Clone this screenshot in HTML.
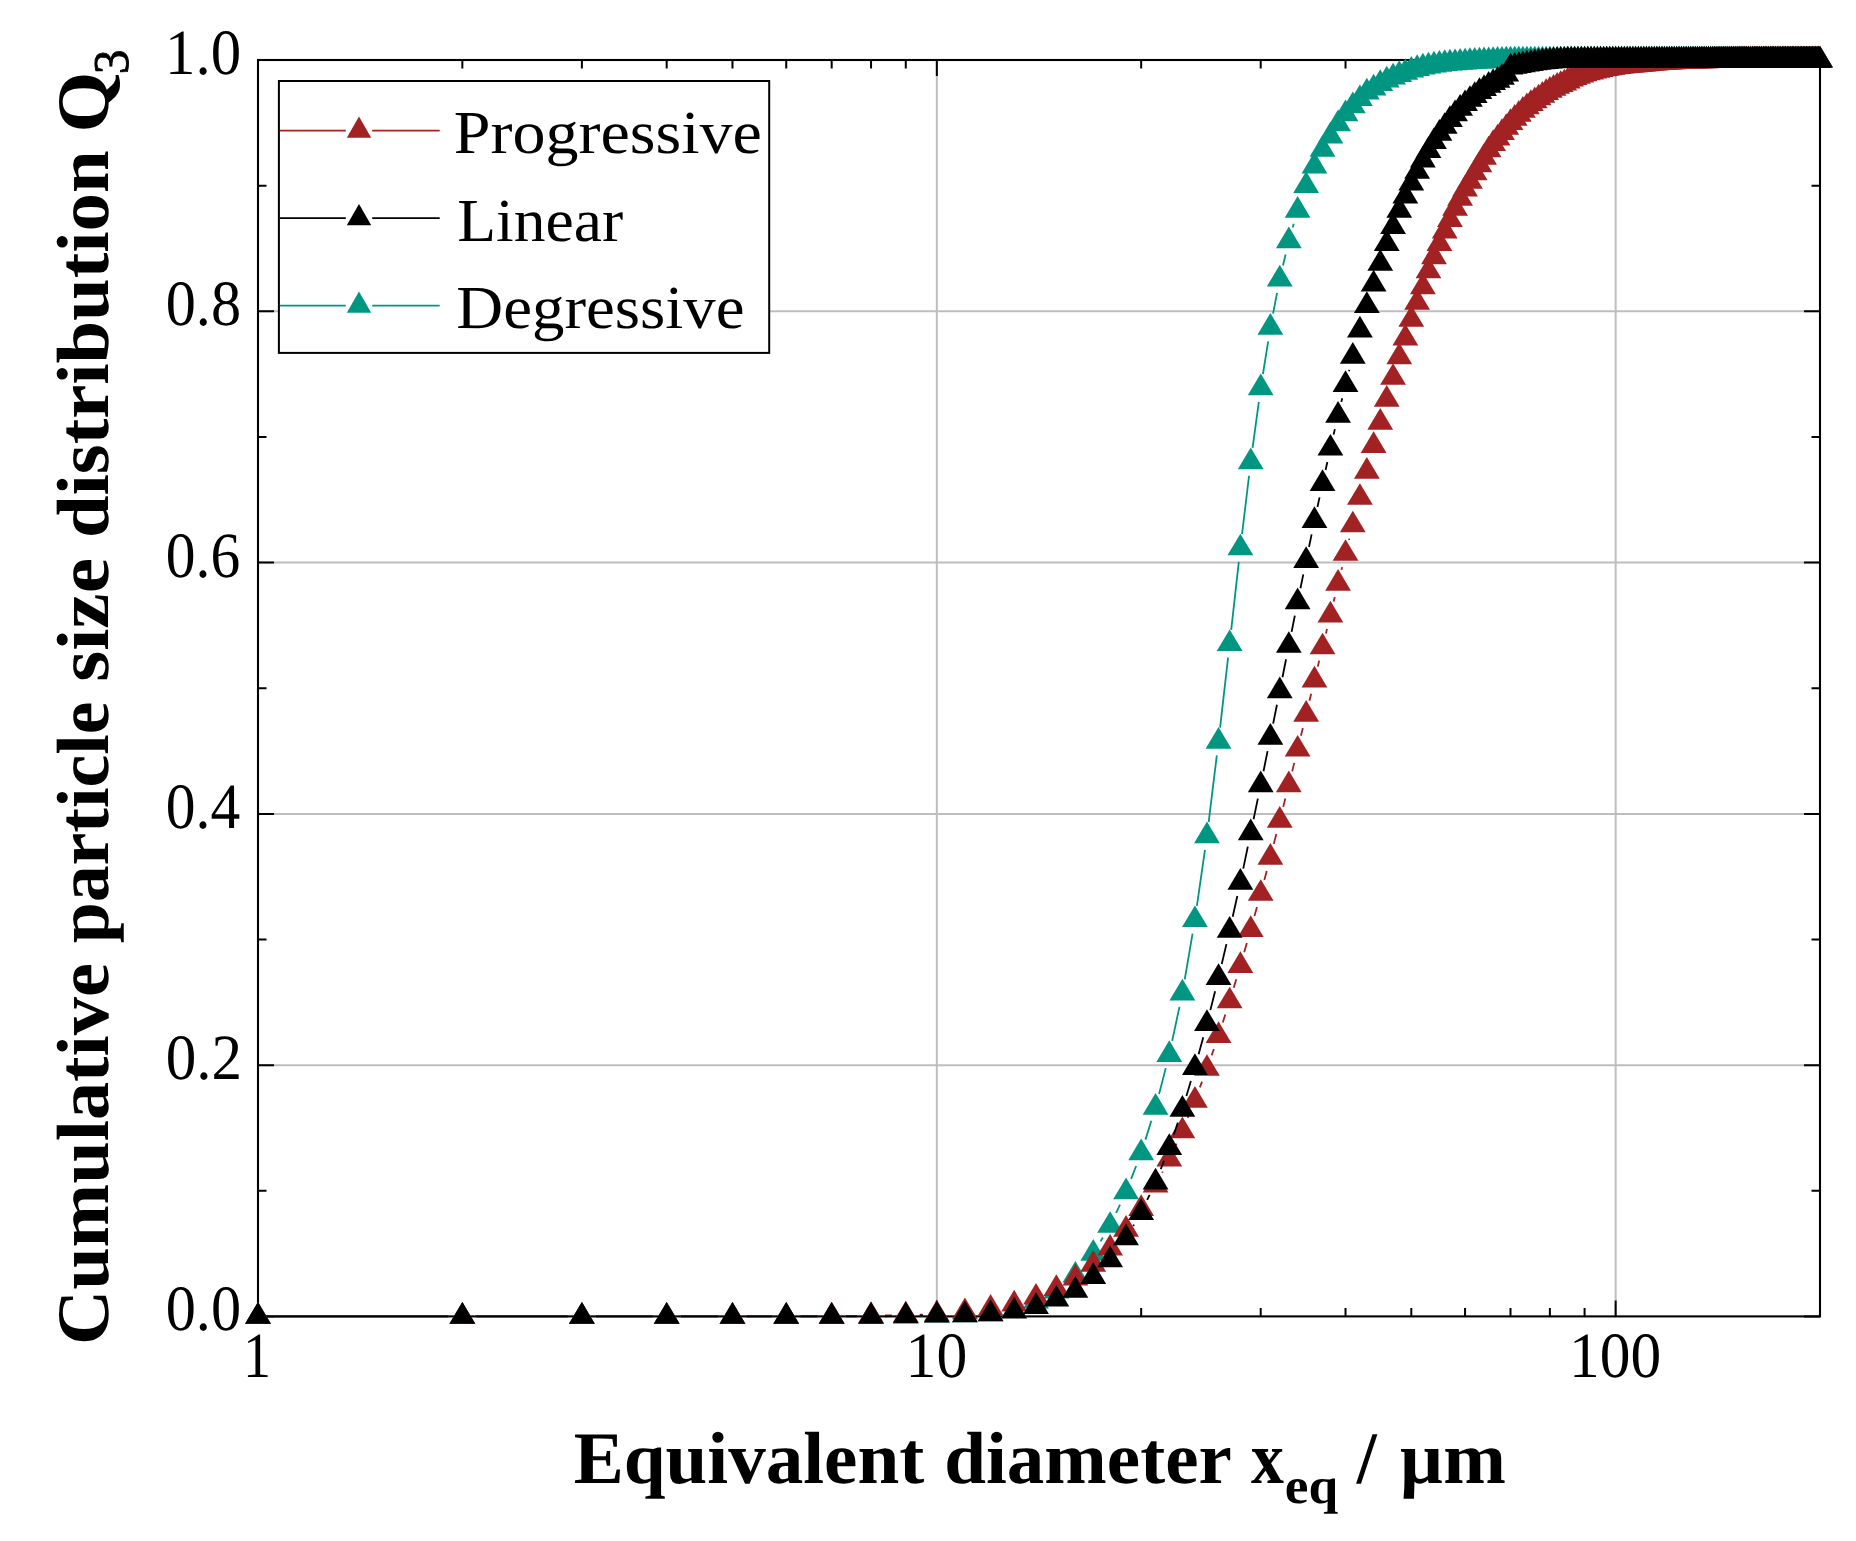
<!DOCTYPE html>
<html lang="en"><head><meta charset="utf-8"><title>Cumulative particle size distribution</title>
<style>html,body{margin:0;padding:0;background:#fff}svg{display:block}text{font-family:"Liberation Serif", serif;text-rendering:geometricPrecision}</style>
</head><body>
<svg width="1856" height="1541" viewBox="0 0 1856 1541" font-family='"Liberation Serif", serif'>
<rect width="1856" height="1541" fill="#fff"/>
<path d="M258.0 1065.14H1820.0M258.0 813.88H1820.0M258.0 562.62H1820.0M258.0 311.36H1820.0M936.83 60.1V1316.4M1615.65 60.1V1316.4" stroke="#bebebe" stroke-width="2" fill="none"/>
<path d="M258.0 1316.40h16.0M1820.0 1316.40h-16.0M258.0 1190.77h8.5M1820.0 1190.77h-8.5M258.0 1065.14h16.0M1820.0 1065.14h-16.0M258.0 939.51h8.5M1820.0 939.51h-8.5M258.0 813.88h16.0M1820.0 813.88h-16.0M258.0 688.25h8.5M1820.0 688.25h-8.5M258.0 562.62h16.0M1820.0 562.62h-16.0M258.0 436.99h8.5M1820.0 436.99h-8.5M258.0 311.36h16.0M1820.0 311.36h-16.0M258.0 185.73h8.5M1820.0 185.73h-8.5M258.0 60.10h16.0M1820.0 60.10h-16.0M258.00 1316.4v-16.0M258.00 60.1v16.0M462.35 1316.4v-8.5M462.35 60.1v8.5M581.88 1316.4v-8.5M581.88 60.1v8.5M666.69 1316.4v-8.5M666.69 60.1v8.5M732.48 1316.4v-8.5M732.48 60.1v8.5M786.23 1316.4v-8.5M786.23 60.1v8.5M831.67 1316.4v-8.5M831.67 60.1v8.5M871.04 1316.4v-8.5M871.04 60.1v8.5M905.77 1316.4v-8.5M905.77 60.1v8.5M936.83 1316.4v-16.0M936.83 60.1v16.0M1141.17 1316.4v-8.5M1141.17 60.1v8.5M1260.71 1316.4v-8.5M1260.71 60.1v8.5M1345.52 1316.4v-8.5M1345.52 60.1v8.5M1411.31 1316.4v-8.5M1411.31 60.1v8.5M1465.06 1316.4v-8.5M1465.06 60.1v8.5M1510.50 1316.4v-8.5M1510.50 60.1v8.5M1549.87 1316.4v-8.5M1549.87 60.1v8.5M1584.59 1316.4v-8.5M1584.59 60.1v8.5M1615.65 1316.4v-16.0M1615.65 60.1v16.0M1820.00 1316.4v-8.5M1820.00 60.1v8.5" stroke="#000" stroke-width="2" fill="none"/>
<rect x="258.0" y="60" width="1562.0" height="1256.40" fill="none" stroke="#000" stroke-width="2.1"/>
<path d="M272.00 1316.40L448.35 1316.40M476.35 1316.40L567.88 1316.40M595.88 1316.40L652.69 1316.40M680.69 1316.40L718.48 1316.40M746.48 1316.40L772.23 1316.40M800.23 1316.40L817.67 1316.40M845.67 1316.40L857.04 1316.40M885.04 1316.25L891.77 1316.18M919.76 1315.68L922.83 1315.61M1100.53 1241.37L1102.85 1237.54M1116.10 1212.92L1120.06 1204.55M1131.12 1178.85L1136.11 1166.01M1145.40 1139.61L1151.34 1120.83M1159.07 1093.93L1165.76 1068.14M1172.19 1040.90L1179.46 1006.85M1184.74 979.35L1192.56 933.59M1196.91 905.93L1204.97 849.85M1208.66 822.09L1216.82 755.41M1220.10 727.61L1228.06 657.69M1231.21 629.86L1238.81 561.96M1242.04 534.15L1249.05 475.76M1252.59 447.99L1258.83 401.87M1262.92 374.17L1268.17 341.27M1273.04 313.70L1277.07 292.94M1282.96 265.58L1285.58 254.50M1292.69 227.43L1293.73 223.81" stroke="#009682" stroke-width="1.8" fill="none"/>
<g fill="#009682"><path d="M258.00 1302.00l12.9 21.7h-25.8z"/><path d="M462.35 1302.00l12.9 21.7h-25.8z"/><path d="M581.88 1302.00l12.9 21.7h-25.8z"/><path d="M666.69 1302.00l12.9 21.7h-25.8z"/><path d="M732.48 1302.00l12.9 21.7h-25.8z"/><path d="M786.23 1302.00l12.9 21.7h-25.8z"/><path d="M831.67 1302.00l12.9 21.7h-25.8z"/><path d="M871.04 1302.00l12.9 21.7h-25.8z"/><path d="M905.77 1301.62l12.9 21.7h-25.8z"/><path d="M936.83 1300.87l12.9 21.7h-25.8z"/><path d="M964.92 1300.49l12.9 21.7h-25.8z"/><path d="M990.58 1299.49l12.9 21.7h-25.8z"/><path d="M1014.17 1296.35l12.9 21.7h-25.8z"/><path d="M1036.02 1286.92l12.9 21.7h-25.8z"/><path d="M1056.36 1276.87l12.9 21.7h-25.8z"/><path d="M1075.39 1260.92l12.9 21.7h-25.8z"/><path d="M1093.26 1238.93l12.9 21.7h-25.8z"/><path d="M1110.11 1211.17l12.9 21.7h-25.8z"/><path d="M1126.05 1177.50l12.9 21.7h-25.8z"/><path d="M1141.17 1138.56l12.9 21.7h-25.8z"/><path d="M1155.56 1093.08l12.9 21.7h-25.8z"/><path d="M1169.27 1040.19l12.9 21.7h-25.8z"/><path d="M1182.38 978.75l12.9 21.7h-25.8z"/><path d="M1194.92 905.39l12.9 21.7h-25.8z"/><path d="M1206.96 821.59l12.9 21.7h-25.8z"/><path d="M1218.52 727.12l12.9 21.7h-25.8z"/><path d="M1229.65 629.38l12.9 21.7h-25.8z"/><path d="M1240.37 533.65l12.9 21.7h-25.8z"/><path d="M1250.71 447.46l12.9 21.7h-25.8z"/><path d="M1260.71 373.59l12.9 21.7h-25.8z"/><path d="M1270.38 313.04l12.9 21.7h-25.8z"/><path d="M1279.74 264.80l12.9 21.7h-25.8z"/><path d="M1288.81 226.48l12.9 21.7h-25.8z"/><path d="M1297.61 195.95l12.9 21.7h-25.8z"/><path d="M1306.15 171.33l12.9 21.7h-25.8z"/><path d="M1314.46 151.86l12.9 21.7h-25.8z"/><path d="M1322.54 135.02l12.9 21.7h-25.8z"/><path d="M1330.40 121.71l12.9 21.7h-25.8z"/><path d="M1338.06 109.52l12.9 21.7h-25.8z"/><path d="M1345.52 99.60l12.9 21.7h-25.8z"/><path d="M1352.80 91.43l12.9 21.7h-25.8z"/><path d="M1359.90 84.39l12.9 21.7h-25.8z"/><path d="M1366.84 77.86l12.9 21.7h-25.8z"/><path d="M1373.62 73.72l12.9 21.7h-25.8z"/><path d="M1380.24 69.19l12.9 21.7h-25.8z"/><path d="M1386.72 65.68l12.9 21.7h-25.8z"/><path d="M1393.06 62.79l12.9 21.7h-25.8z"/><path d="M1399.27 60.27l12.9 21.7h-25.8z"/><path d="M1405.35 58.14l12.9 21.7h-25.8z"/><path d="M1411.31 55.88l12.9 21.7h-25.8z"/><path d="M1417.14 54.37l12.9 21.7h-25.8z"/><path d="M1422.87 52.86l12.9 21.7h-25.8z"/><path d="M1428.48 51.73l12.9 21.7h-25.8z"/><path d="M1433.99 50.73l12.9 21.7h-25.8z"/><path d="M1439.40 49.97l12.9 21.7h-25.8z"/><path d="M1444.72 49.34l12.9 21.7h-25.8z"/><path d="M1449.93 48.84l12.9 21.7h-25.8z"/><path d="M1455.06 48.46l12.9 21.7h-25.8z"/><path d="M1460.10 48.09l12.9 21.7h-25.8z"/><path d="M1465.06 47.71l12.9 21.7h-25.8z"/><path d="M1469.93 47.33l12.9 21.7h-25.8z"/><path d="M1474.72 47.08l12.9 21.7h-25.8z"/><path d="M1479.44 46.83l12.9 21.7h-25.8z"/><path d="M1484.08 46.58l12.9 21.7h-25.8z"/><path d="M1488.65 46.45l12.9 21.7h-25.8z"/><path d="M1493.15 46.20l12.9 21.7h-25.8z"/><path d="M1497.59 46.08l12.9 21.7h-25.8z"/><path d="M1501.96 45.95l12.9 21.7h-25.8z"/><path d="M1506.26 45.83l12.9 21.7h-25.8z"/><path d="M1510.50 45.70l12.9 21.7h-25.8z"/><path d="M1514.68 45.70l12.9 21.7h-25.8z"/><path d="M1518.81 45.70l12.9 21.7h-25.8z"/><path d="M1522.87 45.70l12.9 21.7h-25.8z"/><path d="M1526.88 45.70l12.9 21.7h-25.8z"/><path d="M1530.84 45.70l12.9 21.7h-25.8z"/><path d="M1534.75 45.70l12.9 21.7h-25.8z"/><path d="M1538.60 45.70l12.9 21.7h-25.8z"/><path d="M1542.40 45.70l12.9 21.7h-25.8z"/><path d="M1546.16 45.70l12.9 21.7h-25.8z"/><path d="M1549.87 45.70l12.9 21.7h-25.8z"/><path d="M1553.53 45.70l12.9 21.7h-25.8z"/><path d="M1557.15 45.70l12.9 21.7h-25.8z"/><path d="M1560.72 45.70l12.9 21.7h-25.8z"/><path d="M1564.25 45.70l12.9 21.7h-25.8z"/><path d="M1567.74 45.70l12.9 21.7h-25.8z"/><path d="M1571.19 45.70l12.9 21.7h-25.8z"/><path d="M1574.60 45.70l12.9 21.7h-25.8z"/><path d="M1577.97 45.70l12.9 21.7h-25.8z"/><path d="M1581.30 45.70l12.9 21.7h-25.8z"/><path d="M1584.59 45.70l12.9 21.7h-25.8z"/><path d="M1587.85 45.70l12.9 21.7h-25.8z"/><path d="M1591.07 45.70l12.9 21.7h-25.8z"/><path d="M1594.26 45.70l12.9 21.7h-25.8z"/><path d="M1597.41 45.70l12.9 21.7h-25.8z"/><path d="M1600.53 45.70l12.9 21.7h-25.8z"/><path d="M1603.62 45.70l12.9 21.7h-25.8z"/><path d="M1606.67 45.70l12.9 21.7h-25.8z"/><path d="M1609.70 45.70l12.9 21.7h-25.8z"/><path d="M1612.69 45.70l12.9 21.7h-25.8z"/><path d="M1615.65 45.70l12.9 21.7h-25.8z"/><path d="M1618.59 45.70l12.9 21.7h-25.8z"/><path d="M1621.49 45.70l12.9 21.7h-25.8z"/><path d="M1624.37 45.70l12.9 21.7h-25.8z"/><path d="M1627.22 45.70l12.9 21.7h-25.8z"/><path d="M1630.04 45.70l12.9 21.7h-25.8z"/><path d="M1632.83 45.70l12.9 21.7h-25.8z"/><path d="M1635.60 45.70l12.9 21.7h-25.8z"/><path d="M1638.34 45.70l12.9 21.7h-25.8z"/><path d="M1641.06 45.70l12.9 21.7h-25.8z"/><path d="M1643.75 45.70l12.9 21.7h-25.8z"/><path d="M1646.42 45.70l12.9 21.7h-25.8z"/><path d="M1649.06 45.70l12.9 21.7h-25.8z"/><path d="M1651.68 45.70l12.9 21.7h-25.8z"/><path d="M1654.28 45.70l12.9 21.7h-25.8z"/><path d="M1656.86 45.70l12.9 21.7h-25.8z"/><path d="M1659.41 45.70l12.9 21.7h-25.8z"/><path d="M1661.94 45.70l12.9 21.7h-25.8z"/><path d="M1664.45 45.70l12.9 21.7h-25.8z"/><path d="M1666.94 45.70l12.9 21.7h-25.8z"/><path d="M1669.40 45.70l12.9 21.7h-25.8z"/><path d="M1671.85 45.70l12.9 21.7h-25.8z"/><path d="M1674.28 45.70l12.9 21.7h-25.8z"/><path d="M1676.68 45.70l12.9 21.7h-25.8z"/><path d="M1679.07 45.70l12.9 21.7h-25.8z"/><path d="M1681.44 45.70l12.9 21.7h-25.8z"/><path d="M1683.79 45.70l12.9 21.7h-25.8z"/><path d="M1686.12 45.70l12.9 21.7h-25.8z"/><path d="M1688.43 45.70l12.9 21.7h-25.8z"/><path d="M1690.72 45.70l12.9 21.7h-25.8z"/><path d="M1693.00 45.70l12.9 21.7h-25.8z"/><path d="M1695.26 45.70l12.9 21.7h-25.8z"/><path d="M1697.50 45.70l12.9 21.7h-25.8z"/><path d="M1699.73 45.70l12.9 21.7h-25.8z"/><path d="M1701.93 45.70l12.9 21.7h-25.8z"/><path d="M1704.13 45.70l12.9 21.7h-25.8z"/><path d="M1706.30 45.70l12.9 21.7h-25.8z"/><path d="M1708.46 45.70l12.9 21.7h-25.8z"/><path d="M1710.61 45.70l12.9 21.7h-25.8z"/><path d="M1712.74 45.70l12.9 21.7h-25.8z"/><path d="M1714.85 45.70l12.9 21.7h-25.8z"/><path d="M1716.95 45.70l12.9 21.7h-25.8z"/><path d="M1719.03 45.70l12.9 21.7h-25.8z"/><path d="M1721.10 45.70l12.9 21.7h-25.8z"/><path d="M1723.15 45.70l12.9 21.7h-25.8z"/><path d="M1725.19 45.70l12.9 21.7h-25.8z"/><path d="M1727.22 45.70l12.9 21.7h-25.8z"/><path d="M1729.23 45.70l12.9 21.7h-25.8z"/><path d="M1731.23 45.70l12.9 21.7h-25.8z"/><path d="M1733.22 45.70l12.9 21.7h-25.8z"/><path d="M1735.19 45.70l12.9 21.7h-25.8z"/><path d="M1737.15 45.70l12.9 21.7h-25.8z"/><path d="M1739.09 45.70l12.9 21.7h-25.8z"/><path d="M1741.03 45.70l12.9 21.7h-25.8z"/><path d="M1742.95 45.70l12.9 21.7h-25.8z"/><path d="M1744.86 45.70l12.9 21.7h-25.8z"/><path d="M1746.75 45.70l12.9 21.7h-25.8z"/><path d="M1748.63 45.70l12.9 21.7h-25.8z"/><path d="M1750.51 45.70l12.9 21.7h-25.8z"/><path d="M1752.37 45.70l12.9 21.7h-25.8z"/><path d="M1754.21 45.70l12.9 21.7h-25.8z"/><path d="M1756.05 45.70l12.9 21.7h-25.8z"/><path d="M1757.88 45.70l12.9 21.7h-25.8z"/><path d="M1759.69 45.70l12.9 21.7h-25.8z"/><path d="M1761.49 45.70l12.9 21.7h-25.8z"/><path d="M1763.29 45.70l12.9 21.7h-25.8z"/><path d="M1765.07 45.70l12.9 21.7h-25.8z"/><path d="M1766.84 45.70l12.9 21.7h-25.8z"/><path d="M1768.60 45.70l12.9 21.7h-25.8z"/><path d="M1770.35 45.70l12.9 21.7h-25.8z"/><path d="M1772.09 45.70l12.9 21.7h-25.8z"/><path d="M1773.82 45.70l12.9 21.7h-25.8z"/><path d="M1775.54 45.70l12.9 21.7h-25.8z"/><path d="M1777.24 45.70l12.9 21.7h-25.8z"/><path d="M1778.94 45.70l12.9 21.7h-25.8z"/><path d="M1780.63 45.70l12.9 21.7h-25.8z"/><path d="M1782.31 45.70l12.9 21.7h-25.8z"/><path d="M1783.98 45.70l12.9 21.7h-25.8z"/><path d="M1785.64 45.70l12.9 21.7h-25.8z"/><path d="M1787.30 45.70l12.9 21.7h-25.8z"/><path d="M1788.94 45.70l12.9 21.7h-25.8z"/><path d="M1790.57 45.70l12.9 21.7h-25.8z"/><path d="M1792.20 45.70l12.9 21.7h-25.8z"/><path d="M1793.81 45.70l12.9 21.7h-25.8z"/><path d="M1795.42 45.70l12.9 21.7h-25.8z"/><path d="M1797.02 45.70l12.9 21.7h-25.8z"/><path d="M1798.61 45.70l12.9 21.7h-25.8z"/><path d="M1800.19 45.70l12.9 21.7h-25.8z"/><path d="M1801.76 45.70l12.9 21.7h-25.8z"/><path d="M1803.32 45.70l12.9 21.7h-25.8z"/><path d="M1804.88 45.70l12.9 21.7h-25.8z"/><path d="M1806.43 45.70l12.9 21.7h-25.8z"/><path d="M1807.97 45.70l12.9 21.7h-25.8z"/><path d="M1809.50 45.70l12.9 21.7h-25.8z"/><path d="M1811.02 45.70l12.9 21.7h-25.8z"/><path d="M1812.54 45.70l12.9 21.7h-25.8z"/><path d="M1814.04 45.70l12.9 21.7h-25.8z"/><path d="M1815.54 45.70l12.9 21.7h-25.8z"/><path d="M1817.04 45.70l12.9 21.7h-25.8z"/><path d="M1818.52 45.70l12.9 21.7h-25.8z"/><path d="M1820.00 45.70l12.9 21.7h-25.8z"/></g>
<path d="M272.00 1316.40L448.35 1316.40M476.35 1316.40L567.88 1316.40M595.88 1316.40L652.69 1316.40M680.69 1316.40L718.48 1316.40M746.48 1316.40L772.23 1316.40M800.23 1316.32L817.68 1316.23M845.67 1316.01L857.04 1315.91M885.04 1315.52L891.77 1315.40M919.76 1314.69L922.83 1314.59M1162.11 1172.75L1162.72 1171.61M1175.14 1146.53L1176.51 1143.56M1187.72 1117.90L1189.58 1113.38M1199.86 1087.34L1202.02 1081.63M1211.61 1055.33L1213.87 1048.95M1222.80 1022.41L1225.37 1014.40M1233.72 987.67L1236.30 979.16M1244.22 952.31L1246.87 943.05M1254.45 916.09L1256.97 907.02M1264.33 880.01L1266.75 871.00M1273.80 843.90L1276.31 833.99M1283.21 806.85L1285.33 798.55M1292.16 771.39L1294.26 762.90M1300.94 735.71L1302.83 727.98M1309.46 700.78L1311.15 693.81M1317.77 666.61L1319.22 660.65M1325.90 633.45L1327.04 628.85M1333.67 601.65L1334.79 596.96M1341.46 569.77L1342.12 567.15M1348.98 540.01L1349.34 538.62" stroke="#a22223" stroke-width="1.8" fill="none"/>
<g fill="#a22223"><path d="M258.00 1302.00l12.9 21.7h-25.8z"/><path d="M462.35 1302.00l12.9 21.7h-25.8z"/><path d="M581.88 1302.00l12.9 21.7h-25.8z"/><path d="M666.69 1302.00l12.9 21.7h-25.8z"/><path d="M732.48 1302.00l12.9 21.7h-25.8z"/><path d="M786.23 1302.00l12.9 21.7h-25.8z"/><path d="M831.67 1301.75l12.9 21.7h-25.8z"/><path d="M871.04 1301.37l12.9 21.7h-25.8z"/><path d="M905.77 1300.74l12.9 21.7h-25.8z"/><path d="M936.83 1299.74l12.9 21.7h-25.8z"/><path d="M964.92 1297.48l12.9 21.7h-25.8z"/><path d="M990.58 1294.09l12.9 21.7h-25.8z"/><path d="M1014.17 1289.81l12.9 21.7h-25.8z"/><path d="M1036.02 1282.90l12.9 21.7h-25.8z"/><path d="M1056.36 1274.24l12.9 21.7h-25.8z"/><path d="M1075.39 1263.81l12.9 21.7h-25.8z"/><path d="M1093.26 1249.99l12.9 21.7h-25.8z"/><path d="M1110.11 1233.91l12.9 21.7h-25.8z"/><path d="M1126.05 1215.06l12.9 21.7h-25.8z"/><path d="M1141.17 1194.34l12.9 21.7h-25.8z"/><path d="M1155.56 1170.72l12.9 21.7h-25.8z"/><path d="M1169.27 1144.84l12.9 21.7h-25.8z"/><path d="M1182.38 1116.44l12.9 21.7h-25.8z"/><path d="M1194.92 1086.04l12.9 21.7h-25.8z"/><path d="M1206.96 1054.13l12.9 21.7h-25.8z"/><path d="M1218.52 1021.34l12.9 21.7h-25.8z"/><path d="M1229.65 986.67l12.9 21.7h-25.8z"/><path d="M1240.37 951.37l12.9 21.7h-25.8z"/><path d="M1250.71 915.19l12.9 21.7h-25.8z"/><path d="M1260.71 879.13l12.9 21.7h-25.8z"/><path d="M1270.38 843.07l12.9 21.7h-25.8z"/><path d="M1279.74 806.01l12.9 21.7h-25.8z"/><path d="M1288.81 770.59l12.9 21.7h-25.8z"/><path d="M1297.61 734.91l12.9 21.7h-25.8z"/><path d="M1306.15 699.98l12.9 21.7h-25.8z"/><path d="M1314.46 665.81l12.9 21.7h-25.8z"/><path d="M1322.54 632.64l12.9 21.7h-25.8z"/><path d="M1330.40 600.86l12.9 21.7h-25.8z"/><path d="M1338.06 568.95l12.9 21.7h-25.8z"/><path d="M1345.52 539.17l12.9 21.7h-25.8z"/><path d="M1352.80 510.66l12.9 21.7h-25.8z"/><path d="M1359.90 483.14l12.9 21.7h-25.8z"/><path d="M1366.84 457.01l12.9 21.7h-25.8z"/><path d="M1373.62 431.26l12.9 21.7h-25.8z"/><path d="M1380.24 408.02l12.9 21.7h-25.8z"/><path d="M1386.72 385.03l12.9 21.7h-25.8z"/><path d="M1393.06 363.17l12.9 21.7h-25.8z"/><path d="M1399.27 342.44l12.9 21.7h-25.8z"/><path d="M1405.35 323.72l12.9 21.7h-25.8z"/><path d="M1411.31 305.13l12.9 21.7h-25.8z"/><path d="M1417.14 288.04l12.9 21.7h-25.8z"/><path d="M1422.87 272.59l12.9 21.7h-25.8z"/><path d="M1428.48 256.63l12.9 21.7h-25.8z"/><path d="M1433.99 242.44l12.9 21.7h-25.8z"/><path d="M1439.40 229.37l12.9 21.7h-25.8z"/><path d="M1444.72 216.81l12.9 21.7h-25.8z"/><path d="M1449.93 205.25l12.9 21.7h-25.8z"/><path d="M1455.06 194.07l12.9 21.7h-25.8z"/><path d="M1460.10 184.02l12.9 21.7h-25.8z"/><path d="M1465.06 174.72l12.9 21.7h-25.8z"/><path d="M1469.93 167.06l12.9 21.7h-25.8z"/><path d="M1474.72 158.64l12.9 21.7h-25.8z"/><path d="M1479.44 150.48l12.9 21.7h-25.8z"/><path d="M1484.08 143.06l12.9 21.7h-25.8z"/><path d="M1488.65 135.65l12.9 21.7h-25.8z"/><path d="M1493.15 129.37l12.9 21.7h-25.8z"/><path d="M1497.59 123.72l12.9 21.7h-25.8z"/><path d="M1501.96 118.19l12.9 21.7h-25.8z"/><path d="M1506.26 113.16l12.9 21.7h-25.8z"/><path d="M1510.50 108.26l12.9 21.7h-25.8z"/><path d="M1514.68 104.12l12.9 21.7h-25.8z"/><path d="M1518.81 99.97l12.9 21.7h-25.8z"/><path d="M1522.87 96.08l12.9 21.7h-25.8z"/><path d="M1526.88 92.56l12.9 21.7h-25.8z"/><path d="M1530.84 89.29l12.9 21.7h-25.8z"/><path d="M1534.75 86.53l12.9 21.7h-25.8z"/><path d="M1538.60 83.64l12.9 21.7h-25.8z"/><path d="M1542.40 81.00l12.9 21.7h-25.8z"/><path d="M1546.16 78.36l12.9 21.7h-25.8z"/><path d="M1549.87 76.10l12.9 21.7h-25.8z"/><path d="M1553.53 74.09l12.9 21.7h-25.8z"/><path d="M1557.15 72.08l12.9 21.7h-25.8z"/><path d="M1560.72 70.32l12.9 21.7h-25.8z"/><path d="M1564.25 68.69l12.9 21.7h-25.8z"/><path d="M1567.74 66.68l12.9 21.7h-25.8z"/><path d="M1571.19 64.92l12.9 21.7h-25.8z"/><path d="M1574.60 63.41l12.9 21.7h-25.8z"/><path d="M1577.97 62.03l12.9 21.7h-25.8z"/><path d="M1581.30 60.78l12.9 21.7h-25.8z"/><path d="M1584.59 59.64l12.9 21.7h-25.8z"/><path d="M1587.85 58.64l12.9 21.7h-25.8z"/><path d="M1591.07 57.73l12.9 21.7h-25.8z"/><path d="M1594.26 56.85l12.9 21.7h-25.8z"/><path d="M1597.41 56.03l12.9 21.7h-25.8z"/><path d="M1600.53 55.28l12.9 21.7h-25.8z"/><path d="M1603.62 54.62l12.9 21.7h-25.8z"/><path d="M1606.67 54.03l12.9 21.7h-25.8z"/><path d="M1609.70 53.51l12.9 21.7h-25.8z"/><path d="M1612.69 53.03l12.9 21.7h-25.8z"/><path d="M1615.65 52.61l12.9 21.7h-25.8z"/><path d="M1618.59 52.23l12.9 21.7h-25.8z"/><path d="M1621.49 51.89l12.9 21.7h-25.8z"/><path d="M1624.37 51.58l12.9 21.7h-25.8z"/><path d="M1627.22 51.29l12.9 21.7h-25.8z"/><path d="M1630.04 51.00l12.9 21.7h-25.8z"/><path d="M1632.83 50.73l12.9 21.7h-25.8z"/><path d="M1635.60 50.46l12.9 21.7h-25.8z"/><path d="M1638.34 50.20l12.9 21.7h-25.8z"/><path d="M1641.06 49.96l12.9 21.7h-25.8z"/><path d="M1643.75 49.72l12.9 21.7h-25.8z"/><path d="M1646.42 49.48l12.9 21.7h-25.8z"/><path d="M1649.06 49.23l12.9 21.7h-25.8z"/><path d="M1651.68 48.98l12.9 21.7h-25.8z"/><path d="M1654.28 48.74l12.9 21.7h-25.8z"/><path d="M1656.86 48.51l12.9 21.7h-25.8z"/><path d="M1659.41 48.30l12.9 21.7h-25.8z"/><path d="M1661.94 48.12l12.9 21.7h-25.8z"/><path d="M1664.45 47.96l12.9 21.7h-25.8z"/><path d="M1666.94 47.83l12.9 21.7h-25.8z"/><path d="M1669.40 47.70l12.9 21.7h-25.8z"/><path d="M1671.85 47.59l12.9 21.7h-25.8z"/><path d="M1674.28 47.48l12.9 21.7h-25.8z"/><path d="M1676.68 47.38l12.9 21.7h-25.8z"/><path d="M1679.07 47.29l12.9 21.7h-25.8z"/><path d="M1681.44 47.20l12.9 21.7h-25.8z"/><path d="M1683.79 47.12l12.9 21.7h-25.8z"/><path d="M1686.12 47.04l12.9 21.7h-25.8z"/><path d="M1688.43 46.96l12.9 21.7h-25.8z"/><path d="M1690.72 46.88l12.9 21.7h-25.8z"/><path d="M1693.00 46.81l12.9 21.7h-25.8z"/><path d="M1695.26 46.74l12.9 21.7h-25.8z"/><path d="M1697.50 46.67l12.9 21.7h-25.8z"/><path d="M1699.73 46.61l12.9 21.7h-25.8z"/><path d="M1701.93 46.55l12.9 21.7h-25.8z"/><path d="M1704.13 46.49l12.9 21.7h-25.8z"/><path d="M1706.30 46.43l12.9 21.7h-25.8z"/><path d="M1708.46 46.37l12.9 21.7h-25.8z"/><path d="M1710.61 46.31l12.9 21.7h-25.8z"/><path d="M1712.74 46.26l12.9 21.7h-25.8z"/><path d="M1714.85 46.20l12.9 21.7h-25.8z"/><path d="M1716.95 46.14l12.9 21.7h-25.8z"/><path d="M1719.03 46.08l12.9 21.7h-25.8z"/><path d="M1721.10 46.01l12.9 21.7h-25.8z"/><path d="M1723.15 45.94l12.9 21.7h-25.8z"/><path d="M1725.19 45.88l12.9 21.7h-25.8z"/><path d="M1727.22 45.82l12.9 21.7h-25.8z"/><path d="M1729.23 45.77l12.9 21.7h-25.8z"/><path d="M1731.23 45.73l12.9 21.7h-25.8z"/><path d="M1733.22 45.71l12.9 21.7h-25.8z"/><path d="M1735.19 45.70l12.9 21.7h-25.8z"/><path d="M1737.15 45.70l12.9 21.7h-25.8z"/><path d="M1739.09 45.70l12.9 21.7h-25.8z"/><path d="M1741.03 45.70l12.9 21.7h-25.8z"/><path d="M1742.95 45.70l12.9 21.7h-25.8z"/><path d="M1744.86 45.70l12.9 21.7h-25.8z"/><path d="M1746.75 45.70l12.9 21.7h-25.8z"/><path d="M1748.63 45.70l12.9 21.7h-25.8z"/><path d="M1750.51 45.70l12.9 21.7h-25.8z"/><path d="M1752.37 45.70l12.9 21.7h-25.8z"/><path d="M1754.21 45.70l12.9 21.7h-25.8z"/><path d="M1756.05 45.70l12.9 21.7h-25.8z"/><path d="M1757.88 45.70l12.9 21.7h-25.8z"/><path d="M1759.69 45.70l12.9 21.7h-25.8z"/><path d="M1761.49 45.70l12.9 21.7h-25.8z"/><path d="M1763.29 45.70l12.9 21.7h-25.8z"/><path d="M1765.07 45.70l12.9 21.7h-25.8z"/><path d="M1766.84 45.70l12.9 21.7h-25.8z"/><path d="M1768.60 45.70l12.9 21.7h-25.8z"/><path d="M1770.35 45.70l12.9 21.7h-25.8z"/><path d="M1772.09 45.70l12.9 21.7h-25.8z"/><path d="M1773.82 45.70l12.9 21.7h-25.8z"/><path d="M1775.54 45.70l12.9 21.7h-25.8z"/><path d="M1777.24 45.70l12.9 21.7h-25.8z"/><path d="M1778.94 45.70l12.9 21.7h-25.8z"/><path d="M1780.63 45.70l12.9 21.7h-25.8z"/><path d="M1782.31 45.70l12.9 21.7h-25.8z"/><path d="M1783.98 45.70l12.9 21.7h-25.8z"/><path d="M1785.64 45.70l12.9 21.7h-25.8z"/><path d="M1787.30 45.70l12.9 21.7h-25.8z"/><path d="M1788.94 45.70l12.9 21.7h-25.8z"/><path d="M1790.57 45.70l12.9 21.7h-25.8z"/><path d="M1792.20 45.70l12.9 21.7h-25.8z"/><path d="M1793.81 45.70l12.9 21.7h-25.8z"/><path d="M1795.42 45.70l12.9 21.7h-25.8z"/><path d="M1797.02 45.70l12.9 21.7h-25.8z"/><path d="M1798.61 45.70l12.9 21.7h-25.8z"/><path d="M1800.19 45.70l12.9 21.7h-25.8z"/><path d="M1801.76 45.70l12.9 21.7h-25.8z"/><path d="M1803.32 45.70l12.9 21.7h-25.8z"/><path d="M1804.88 45.70l12.9 21.7h-25.8z"/><path d="M1806.43 45.70l12.9 21.7h-25.8z"/><path d="M1807.97 45.70l12.9 21.7h-25.8z"/><path d="M1809.50 45.70l12.9 21.7h-25.8z"/><path d="M1811.02 45.70l12.9 21.7h-25.8z"/><path d="M1812.54 45.70l12.9 21.7h-25.8z"/><path d="M1814.04 45.70l12.9 21.7h-25.8z"/><path d="M1815.54 45.70l12.9 21.7h-25.8z"/><path d="M1817.04 45.70l12.9 21.7h-25.8z"/><path d="M1818.52 45.70l12.9 21.7h-25.8z"/><path d="M1820.00 45.70l12.9 21.7h-25.8z"/></g>
<path d="M272.00 1316.40L448.35 1316.40M476.35 1316.40L567.88 1316.40M595.88 1316.40L652.69 1316.40M680.69 1316.40L718.48 1316.40M746.48 1316.40L772.23 1316.40M800.23 1316.40L817.67 1316.40M845.67 1316.40L857.04 1316.40M885.04 1316.25L891.77 1316.18M919.76 1315.68L922.83 1315.61M1133.22 1225.98L1134.01 1224.66M1147.14 1199.96L1149.59 1194.77M1160.74 1169.10L1164.09 1160.68M1173.80 1134.43L1177.85 1122.61M1186.41 1095.96L1190.89 1081.06M1198.62 1054.15L1203.26 1037.19M1210.36 1010.10L1215.12 991.16M1221.74 963.95L1226.43 944.09M1232.69 916.80L1237.32 896.01M1243.24 868.65L1247.84 846.68M1253.57 819.27L1257.85 798.69M1263.49 771.27L1267.59 751.09M1273.15 723.65L1276.96 704.74M1282.47 677.28L1286.07 659.27M1291.58 631.81L1294.84 615.67M1300.45 588.23L1303.31 574.44M1309.00 547.03L1311.62 534.37M1317.45 506.98L1319.55 497.40M1325.57 470.06L1327.37 461.96M1333.58 434.66L1334.87 429.14M1341.36 401.90L1342.22 398.33M1349.00 371.17L1349.32 369.90" stroke="#000000" stroke-width="1.8" fill="none"/>
<g fill="#000000"><path d="M258.00 1302.00l12.9 21.7h-25.8z"/><path d="M462.35 1302.00l12.9 21.7h-25.8z"/><path d="M581.88 1302.00l12.9 21.7h-25.8z"/><path d="M666.69 1302.00l12.9 21.7h-25.8z"/><path d="M732.48 1302.00l12.9 21.7h-25.8z"/><path d="M786.23 1302.00l12.9 21.7h-25.8z"/><path d="M831.67 1302.00l12.9 21.7h-25.8z"/><path d="M871.04 1302.00l12.9 21.7h-25.8z"/><path d="M905.77 1301.62l12.9 21.7h-25.8z"/><path d="M936.83 1300.87l12.9 21.7h-25.8z"/><path d="M964.92 1300.49l12.9 21.7h-25.8z"/><path d="M990.58 1299.49l12.9 21.7h-25.8z"/><path d="M1014.17 1296.85l12.9 21.7h-25.8z"/><path d="M1036.02 1292.20l12.9 21.7h-25.8z"/><path d="M1056.36 1284.91l12.9 21.7h-25.8z"/><path d="M1075.39 1275.99l12.9 21.7h-25.8z"/><path d="M1093.26 1262.18l12.9 21.7h-25.8z"/><path d="M1110.11 1245.59l12.9 21.7h-25.8z"/><path d="M1126.05 1223.61l12.9 21.7h-25.8z"/><path d="M1141.17 1198.23l12.9 21.7h-25.8z"/><path d="M1155.56 1167.70l12.9 21.7h-25.8z"/><path d="M1169.27 1133.28l12.9 21.7h-25.8z"/><path d="M1182.38 1094.96l12.9 21.7h-25.8z"/><path d="M1194.92 1053.25l12.9 21.7h-25.8z"/><path d="M1206.96 1009.28l12.9 21.7h-25.8z"/><path d="M1218.52 963.18l12.9 21.7h-25.8z"/><path d="M1229.65 916.06l12.9 21.7h-25.8z"/><path d="M1240.37 867.95l12.9 21.7h-25.8z"/><path d="M1250.71 818.58l12.9 21.7h-25.8z"/><path d="M1260.71 770.59l12.9 21.7h-25.8z"/><path d="M1270.38 722.97l12.9 21.7h-25.8z"/><path d="M1279.74 676.61l12.9 21.7h-25.8z"/><path d="M1288.81 631.14l12.9 21.7h-25.8z"/><path d="M1297.61 587.54l12.9 21.7h-25.8z"/><path d="M1306.15 546.34l12.9 21.7h-25.8z"/><path d="M1314.46 506.26l12.9 21.7h-25.8z"/><path d="M1322.54 469.32l12.9 21.7h-25.8z"/><path d="M1330.40 433.90l12.9 21.7h-25.8z"/><path d="M1338.06 401.11l12.9 21.7h-25.8z"/><path d="M1345.52 370.33l12.9 21.7h-25.8z"/><path d="M1352.80 341.94l12.9 21.7h-25.8z"/><path d="M1359.90 315.80l12.9 21.7h-25.8z"/><path d="M1366.84 291.18l12.9 21.7h-25.8z"/><path d="M1373.62 269.70l12.9 21.7h-25.8z"/><path d="M1380.24 249.09l12.9 21.7h-25.8z"/><path d="M1386.72 229.37l12.9 21.7h-25.8z"/><path d="M1393.06 212.29l12.9 21.7h-25.8z"/><path d="M1399.27 195.95l12.9 21.7h-25.8z"/><path d="M1405.35 181.76l12.9 21.7h-25.8z"/><path d="M1411.31 168.82l12.9 21.7h-25.8z"/><path d="M1417.14 157.13l12.9 21.7h-25.8z"/><path d="M1422.87 145.83l12.9 21.7h-25.8z"/><path d="M1428.48 136.28l12.9 21.7h-25.8z"/><path d="M1433.99 127.23l12.9 21.7h-25.8z"/><path d="M1439.40 119.07l12.9 21.7h-25.8z"/><path d="M1444.72 112.16l12.9 21.7h-25.8z"/><path d="M1449.93 105.25l12.9 21.7h-25.8z"/><path d="M1455.06 99.47l12.9 21.7h-25.8z"/><path d="M1460.10 93.94l12.9 21.7h-25.8z"/><path d="M1465.06 89.42l12.9 21.7h-25.8z"/><path d="M1469.93 85.15l12.9 21.7h-25.8z"/><path d="M1474.72 81.25l12.9 21.7h-25.8z"/><path d="M1479.44 77.36l12.9 21.7h-25.8z"/><path d="M1484.08 74.22l12.9 21.7h-25.8z"/><path d="M1488.65 71.08l12.9 21.7h-25.8z"/><path d="M1493.15 68.31l12.9 21.7h-25.8z"/><path d="M1497.59 65.93l12.9 21.7h-25.8z"/><path d="M1501.96 63.16l12.9 21.7h-25.8z"/><path d="M1506.26 59.90l12.9 21.7h-25.8z"/><path d="M1510.50 52.86l12.9 21.7h-25.8z"/><path d="M1514.68 51.98l12.9 21.7h-25.8z"/><path d="M1518.81 51.23l12.9 21.7h-25.8z"/><path d="M1522.87 50.47l12.9 21.7h-25.8z"/><path d="M1526.88 49.72l12.9 21.7h-25.8z"/><path d="M1530.84 49.22l12.9 21.7h-25.8z"/><path d="M1534.75 48.59l12.9 21.7h-25.8z"/><path d="M1538.60 48.09l12.9 21.7h-25.8z"/><path d="M1542.40 47.58l12.9 21.7h-25.8z"/><path d="M1546.16 47.21l12.9 21.7h-25.8z"/><path d="M1549.87 46.83l12.9 21.7h-25.8z"/><path d="M1553.53 46.45l12.9 21.7h-25.8z"/><path d="M1557.15 46.20l12.9 21.7h-25.8z"/><path d="M1560.72 46.08l12.9 21.7h-25.8z"/><path d="M1564.25 45.95l12.9 21.7h-25.8z"/><path d="M1567.74 45.83l12.9 21.7h-25.8z"/><path d="M1571.19 45.70l12.9 21.7h-25.8z"/><path d="M1574.60 45.70l12.9 21.7h-25.8z"/><path d="M1577.97 45.70l12.9 21.7h-25.8z"/><path d="M1581.30 45.70l12.9 21.7h-25.8z"/><path d="M1584.59 45.70l12.9 21.7h-25.8z"/><path d="M1587.85 45.70l12.9 21.7h-25.8z"/><path d="M1591.07 45.70l12.9 21.7h-25.8z"/><path d="M1594.26 45.70l12.9 21.7h-25.8z"/><path d="M1597.41 45.70l12.9 21.7h-25.8z"/><path d="M1600.53 45.70l12.9 21.7h-25.8z"/><path d="M1603.62 45.70l12.9 21.7h-25.8z"/><path d="M1606.67 45.70l12.9 21.7h-25.8z"/><path d="M1609.70 45.70l12.9 21.7h-25.8z"/><path d="M1612.69 45.70l12.9 21.7h-25.8z"/><path d="M1615.65 45.70l12.9 21.7h-25.8z"/><path d="M1618.59 45.70l12.9 21.7h-25.8z"/><path d="M1621.49 45.70l12.9 21.7h-25.8z"/><path d="M1624.37 45.70l12.9 21.7h-25.8z"/><path d="M1627.22 45.70l12.9 21.7h-25.8z"/><path d="M1630.04 45.70l12.9 21.7h-25.8z"/><path d="M1632.83 45.70l12.9 21.7h-25.8z"/><path d="M1635.60 45.70l12.9 21.7h-25.8z"/><path d="M1638.34 45.70l12.9 21.7h-25.8z"/><path d="M1641.06 45.70l12.9 21.7h-25.8z"/><path d="M1643.75 45.70l12.9 21.7h-25.8z"/><path d="M1646.42 45.70l12.9 21.7h-25.8z"/><path d="M1649.06 45.70l12.9 21.7h-25.8z"/><path d="M1651.68 45.70l12.9 21.7h-25.8z"/><path d="M1654.28 45.70l12.9 21.7h-25.8z"/><path d="M1656.86 45.70l12.9 21.7h-25.8z"/><path d="M1659.41 45.70l12.9 21.7h-25.8z"/><path d="M1661.94 45.70l12.9 21.7h-25.8z"/><path d="M1664.45 45.70l12.9 21.7h-25.8z"/><path d="M1666.94 45.70l12.9 21.7h-25.8z"/><path d="M1669.40 45.70l12.9 21.7h-25.8z"/><path d="M1671.85 45.70l12.9 21.7h-25.8z"/><path d="M1674.28 45.70l12.9 21.7h-25.8z"/><path d="M1676.68 45.70l12.9 21.7h-25.8z"/><path d="M1679.07 45.70l12.9 21.7h-25.8z"/><path d="M1681.44 45.70l12.9 21.7h-25.8z"/><path d="M1683.79 45.70l12.9 21.7h-25.8z"/><path d="M1686.12 45.70l12.9 21.7h-25.8z"/><path d="M1688.43 45.70l12.9 21.7h-25.8z"/><path d="M1690.72 45.70l12.9 21.7h-25.8z"/><path d="M1693.00 45.70l12.9 21.7h-25.8z"/><path d="M1695.26 45.70l12.9 21.7h-25.8z"/><path d="M1697.50 45.70l12.9 21.7h-25.8z"/><path d="M1699.73 45.70l12.9 21.7h-25.8z"/><path d="M1701.93 45.70l12.9 21.7h-25.8z"/><path d="M1704.13 45.70l12.9 21.7h-25.8z"/><path d="M1706.30 45.70l12.9 21.7h-25.8z"/><path d="M1708.46 45.70l12.9 21.7h-25.8z"/><path d="M1710.61 45.70l12.9 21.7h-25.8z"/><path d="M1712.74 45.70l12.9 21.7h-25.8z"/><path d="M1714.85 45.70l12.9 21.7h-25.8z"/><path d="M1716.95 45.70l12.9 21.7h-25.8z"/><path d="M1719.03 45.70l12.9 21.7h-25.8z"/><path d="M1721.10 45.70l12.9 21.7h-25.8z"/><path d="M1723.15 45.70l12.9 21.7h-25.8z"/><path d="M1725.19 45.70l12.9 21.7h-25.8z"/><path d="M1727.22 45.70l12.9 21.7h-25.8z"/><path d="M1729.23 45.70l12.9 21.7h-25.8z"/><path d="M1731.23 45.70l12.9 21.7h-25.8z"/><path d="M1733.22 45.70l12.9 21.7h-25.8z"/><path d="M1735.19 45.70l12.9 21.7h-25.8z"/><path d="M1737.15 45.70l12.9 21.7h-25.8z"/><path d="M1739.09 45.70l12.9 21.7h-25.8z"/><path d="M1741.03 45.70l12.9 21.7h-25.8z"/><path d="M1742.95 45.70l12.9 21.7h-25.8z"/><path d="M1744.86 45.70l12.9 21.7h-25.8z"/><path d="M1746.75 45.70l12.9 21.7h-25.8z"/><path d="M1748.63 45.70l12.9 21.7h-25.8z"/><path d="M1750.51 45.70l12.9 21.7h-25.8z"/><path d="M1752.37 45.70l12.9 21.7h-25.8z"/><path d="M1754.21 45.70l12.9 21.7h-25.8z"/><path d="M1756.05 45.70l12.9 21.7h-25.8z"/><path d="M1757.88 45.70l12.9 21.7h-25.8z"/><path d="M1759.69 45.70l12.9 21.7h-25.8z"/><path d="M1761.49 45.70l12.9 21.7h-25.8z"/><path d="M1763.29 45.70l12.9 21.7h-25.8z"/><path d="M1765.07 45.70l12.9 21.7h-25.8z"/><path d="M1766.84 45.70l12.9 21.7h-25.8z"/><path d="M1768.60 45.70l12.9 21.7h-25.8z"/><path d="M1770.35 45.70l12.9 21.7h-25.8z"/><path d="M1772.09 45.70l12.9 21.7h-25.8z"/><path d="M1773.82 45.70l12.9 21.7h-25.8z"/><path d="M1775.54 45.70l12.9 21.7h-25.8z"/><path d="M1777.24 45.70l12.9 21.7h-25.8z"/><path d="M1778.94 45.70l12.9 21.7h-25.8z"/><path d="M1780.63 45.70l12.9 21.7h-25.8z"/><path d="M1782.31 45.70l12.9 21.7h-25.8z"/><path d="M1783.98 45.70l12.9 21.7h-25.8z"/><path d="M1785.64 45.70l12.9 21.7h-25.8z"/><path d="M1787.30 45.70l12.9 21.7h-25.8z"/><path d="M1788.94 45.70l12.9 21.7h-25.8z"/><path d="M1790.57 45.70l12.9 21.7h-25.8z"/><path d="M1792.20 45.70l12.9 21.7h-25.8z"/><path d="M1793.81 45.70l12.9 21.7h-25.8z"/><path d="M1795.42 45.70l12.9 21.7h-25.8z"/><path d="M1797.02 45.70l12.9 21.7h-25.8z"/><path d="M1798.61 45.70l12.9 21.7h-25.8z"/><path d="M1800.19 45.70l12.9 21.7h-25.8z"/><path d="M1801.76 45.70l12.9 21.7h-25.8z"/><path d="M1803.32 45.70l12.9 21.7h-25.8z"/><path d="M1804.88 45.70l12.9 21.7h-25.8z"/><path d="M1806.43 45.70l12.9 21.7h-25.8z"/><path d="M1807.97 45.70l12.9 21.7h-25.8z"/><path d="M1809.50 45.70l12.9 21.7h-25.8z"/><path d="M1811.02 45.70l12.9 21.7h-25.8z"/><path d="M1812.54 45.70l12.9 21.7h-25.8z"/><path d="M1814.04 45.70l12.9 21.7h-25.8z"/><path d="M1815.54 45.70l12.9 21.7h-25.8z"/><path d="M1817.04 45.70l12.9 21.7h-25.8z"/><path d="M1818.52 45.70l12.9 21.7h-25.8z"/><path d="M1820.00 45.70l12.9 21.7h-25.8z"/></g>
<rect x="278.9" y="81.0" width="490.30000000000007" height="271.9" fill="#fff" stroke="#000" stroke-width="2"/>
<path d="M279.9 130.7H345.8M372.2 130.7H439.7" stroke="#a22223" stroke-width="1.8" fill="none"/>
<path d="M359.0 116.49999999999999l12.2 21.3h-24.4z" fill="#a22223"/>
<text transform="translate(453.87,153.30) scale(1.0821,1)" font-size="61" font-weight="normal" fill="#000">Progressive</text>
<path d="M279.9 218.2H345.8M372.2 218.2H439.7" stroke="#000000" stroke-width="1.8" fill="none"/>
<path d="M359.0 204.0l12.2 21.3h-24.4z" fill="#000000"/>
<text transform="translate(457.21,241.00) scale(1.0423,1)" font-size="61" font-weight="normal" fill="#000">Linear</text>
<path d="M279.9 305.6H345.8M372.2 305.6H439.7" stroke="#009682" stroke-width="1.8" fill="none"/>
<path d="M359.0 291.40000000000003l12.2 21.3h-24.4z" fill="#009682"/>
<text transform="translate(456.29,328.00) scale(1.0636,1)" font-size="61" font-weight="normal" fill="#000">Degressive</text>
<text transform="translate(165.72,1330.30) scale(0.9348,1)" font-size="64.5" font-weight="normal" fill="#000">0.0</text>
<text transform="translate(165.69,1079.04) scale(0.9473,1)" font-size="64.5" font-weight="normal" fill="#000">0.2</text>
<text transform="translate(165.74,827.78) scale(0.9227,1)" font-size="64.5" font-weight="normal" fill="#000">0.4</text>
<text transform="translate(165.74,576.52) scale(0.9227,1)" font-size="64.5" font-weight="normal" fill="#000">0.6</text>
<text transform="translate(165.72,325.26) scale(0.9348,1)" font-size="64.5" font-weight="normal" fill="#000">0.8</text>
<text transform="translate(165.05,74.00) scale(0.9433,1)" font-size="64.5" font-weight="normal" fill="#000">1.0</text>
<text transform="translate(242.93,1376.60) scale(0.8682,1)" font-size="64.5" font-weight="normal" fill="#000">1</text>
<text transform="translate(905.58,1376.60) scale(0.9557,1)" font-size="64.5" font-weight="normal" fill="#000">10</text>
<text transform="translate(1569.00,1376.60) scale(0.9521,1)" font-size="64.5" font-weight="normal" fill="#000">100</text>
<text transform="translate(573.63,1483.30) scale(1.0149,1)" font-size="74" font-weight="bold" fill="#000">Equivalent</text>
<text transform="translate(944.25,1483.30) scale(1.0141,1)" font-size="74" font-weight="bold" fill="#000">diameter</text>
<text transform="translate(1250.90,1483.30) scale(0.8892,1)" font-size="74" font-weight="bold" fill="#000">x</text>
<text transform="translate(1284.83,1503.00) scale(1.0463,1)" font-size="51" font-weight="bold" fill="#000">eq</text>
<text transform="translate(1356.82,1483.30) scale(0.9686,1)" font-size="74" font-weight="bold" fill="#000">/</text>
<text transform="translate(1399.82,1483.30) scale(1.0169,1)" font-size="74" font-weight="bold" fill="#000">µm</text>
<text transform="translate(107.50,1341.40) rotate(-90) translate(-3.58,0) scale(1.0318,1)" font-size="74" font-weight="bold" fill="#000">Cumulative</text>
<text transform="translate(107.50,943.30) rotate(-90) translate(0.00,0) scale(0.9970,1)" font-size="74" font-weight="bold" fill="#000">particle</text>
<text transform="translate(107.50,680.50) rotate(-90) translate(-1.24,0) scale(1.0760,1)" font-size="74" font-weight="bold" fill="#000">size</text>
<text transform="translate(107.50,535.70) rotate(-90) translate(-2.40,0) scale(1.0358,1)" font-size="74" font-weight="bold" fill="#000">distribution</text>
<text transform="translate(107.50,128.90) rotate(-90) translate(-3.67,0) scale(1.0575,1)" font-size="74" font-weight="bold" fill="#000">Q</text>
<text stroke="#000" stroke-width="0.9" transform="translate(127.80,72.00) rotate(-90) translate(-2.32,0) scale(0.9908,1)" font-size="50" font-weight="normal" fill="#000">3</text>
</svg>
</body></html>
